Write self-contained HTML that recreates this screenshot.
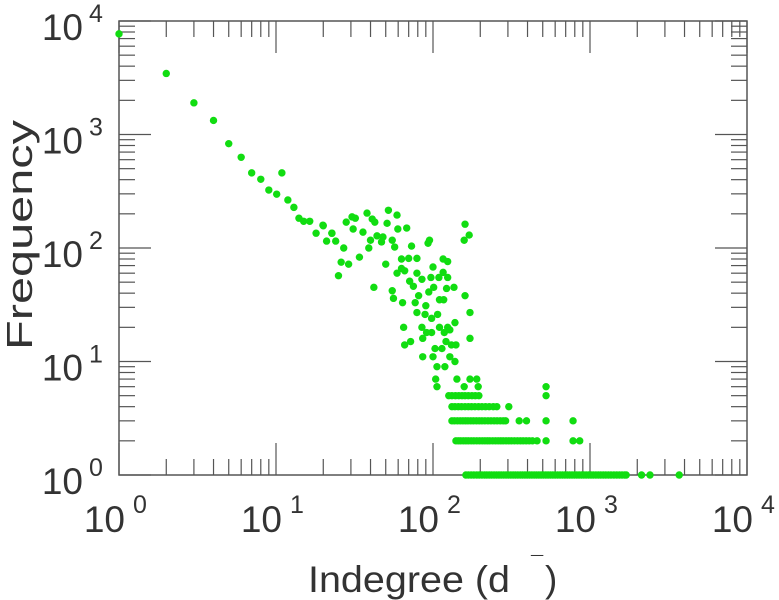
<!DOCTYPE html>
<html><head><meta charset="utf-8"><style>
html,body{margin:0;padding:0;background:#fff;}
svg{display:block;font-family:"Liberation Sans",Arial,sans-serif;}
</style></head><body>
<svg id="chart" width="779" height="600" viewBox="0 0 779 600" xmlns="http://www.w3.org/2000/svg">
<g id="ticks"></g>
<rect x="119" y="21" width="628" height="454" fill="none" stroke="#555" stroke-width="1.5"/>
<g id="points"></g>
<g id="labels" fill="#333"></g>
<text transform="translate(32,235) rotate(-90)" text-anchor="middle" font-size="36" fill="#333" textLength="230" lengthAdjust="spacingAndGlyphs">Frequency</text>
<text x="308" y="592" font-size="37" fill="#333" textLength="202" lengthAdjust="spacingAndGlyphs">Indegree (d</text>
<text x="531" y="572" font-size="22" fill="#333">¯</text>
<text x="545" y="592" font-size="37" fill="#333">)</text>
</svg>
<script>
// single points: degree / frequency
const degrees = [1,2,3,4,5,6,7,8,9,10.1,10.9,11.9,13,14,15,16.4,18,20,21,22.7,24,27,26,29,25,34,42,
19.9,22.7,28,30.5,32,38,41,42.6,52,59,51,31,35.8,44,48,40,47,55,59.7,68,39,57,73,93,95,160,170,158,
50,63,70,79,63,59,66,79,116,124,100,116,85,97,109,124,71,75,101,122,136,55,94,56,64,81,77,90,110,117,160,
79,89,98,107,172,65,85,91,98,110,124,138,118,128,86,172,66,72,121,131,140,103,114,86,100,128,138,106,119,
104,142,172,190,106,158,194,525];
const frequencies = [7700,3450,1900,1330,830,630,459,403,324,298,459,265,228,183,172,172,135,157,115,135,115,100,75,72,57,83,45,
159,135,169,188,183,203,180,169,215,195,165,147,138,128,125,117,113,117,147,150,100,102,104,110,117,162,130,117,
72,80,81,81,66,60,63,60,80,76,68,61,53,55,55,55,51,46,45,44,45,42,41,36,33,38,33,31,35,35,38,
27,26,24,26,27,20,20,18,18,20,20,22,18,19,16,16,14,15,15,14,14,13,13,11,11,11,10,9,9,
7,7,7,7,6,6,6,6];
// rows of low-frequency points
const rowFreq = [1,2,3,4,5];
const row1 = [162,168,175,182,190,197,205,213,220,228,236,245,254,263,272,282,292,302,313,324,335,347,360,372,385,398,412,426,441,456,472,488,505,523,541,560,580,600,622,645,668,692,717,742,768,795,823,852,882,913,945,980,1015,1050,1090,1130,1170,1215,1260,1310,1360,1420,1480,1540,1600,1660,1700,2130,2410,3700];
const row2 = [140,145,150,156,162,168,175,182,190,198,206,214,222,230,240,250,260,270,280,292,304,316,330,345,360,375,392,410,430,460,525,780,860];
const row3 = [132,137,143,149,155,161,167,174,181,189,197,205,214,224,234,245,256,268,280,290,354,394,525,780];
const row4 = [132,138,145,152,160,168,176,185,195,205,216,228,242,255,304];
const row5 = [126,132,139,146,153,160,168,177,186,196,525];
const rows = [row1,row2,row3,row4,row5];
const xTickExps = ["0","1","2","3","4"];
const yTickExps = ["0","1","2","3","4"];

const NS = "http://www.w3.org/2000/svg";
const X0 = 119, XD = 157, Y0 = 475, YD = 113.5;
function xs(v){ return X0 + Math.log10(v) * XD; }
function ys(v){ return Y0 - Math.log10(v) * YD; }
function mk(tag, attrs, parent){
  const e = document.createElementNS(NS, tag);
  for (const k in attrs) e.setAttribute(k, attrs[k]);
  parent.appendChild(e); return e;
}
const pts = document.getElementById('points');
function dot(d, f){
  const c = mk('circle', {cx: xs(d), cy: ys(f), r: 3.7, fill: '#11dd11'}, pts);
  
  
}
degrees.forEach((d, i) => dot(d, frequencies[i]));
rows.forEach((r, i) => r.forEach(d => dot(d, rowFreq[i])));

// ticks
const tg = document.getElementById('ticks');
for (let dec = 0; dec < 4; dec++) {
  for (let m = 1; m <= 10; m++) {
    if (m === 10 && dec < 3) continue;
    const v = m * Math.pow(10, dec);
    const len = (m === 1 || m === 10) ? 32 : 16;
    const x = xs(v);
    const l1 = mk('line', {x1: x, x2: x, y1: 475, y2: 475 - len, stroke: '#555', 'stroke-width': 1.2}, tg);
    
    
    const l2 = mk('line', {x1: x, x2: x, y1: 21, y2: 21 + len, stroke: '#555', 'stroke-width': 1.2}, tg);
    
    
    const y = ys(v);
    const l3 = mk('line', {x1: 119, x2: 119 + len, y1: y, y2: y, stroke: '#555', 'stroke-width': 1.2}, tg);
    
    
    const l4 = mk('line', {x1: 747, x2: 747 - len, y1: y, y2: y, stroke: '#555', 'stroke-width': 1.2}, tg);
    
    
  }
}
// labels
const lg = document.getElementById('labels');
xTickExps.forEach((e) => {
  const x = xs(Math.pow(10, +e));
  const t = mk('text', {x: x + 6, y: 532, 'font-size': 37, 'text-anchor': 'end'}, lg);
  t.textContent = '10';
  
  
  const s = mk('text', {x: x + 14, y: 513, 'font-size': 25}, lg);
  s.textContent = e;
  
  
});
yTickExps.forEach((e) => {
  const y = ys(Math.pow(10, +e));
  const t = mk('text', {x: 83, y: y + 19, 'font-size': 37, 'text-anchor': 'end'}, lg);
  t.textContent = '10';
  
  
  const s = mk('text', {x: 89, y: y + 1, 'font-size': 25}, lg);
  s.textContent = e;
  
  
});
</script>
</body></html>
